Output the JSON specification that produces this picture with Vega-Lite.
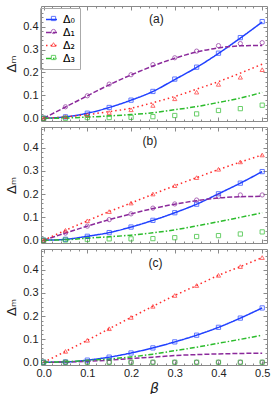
{
  "$schema": "https://vega.github.io/schema/vega-lite/v6.json",
  "padding": {"left": 5, "top": 5, "right": 5, "bottom": 5},
  "background": "white",
  "config": {
    "font": "Liberation Sans",
    "view": {"stroke": "#8a8a8a", "strokeWidth": 1},
    "axis": {
      "grid": false,
      "domain": false,
      "minExtent": 0,
      "offset": 0,
      "tickColor": "#8a8a8a",
      "labelFont": "Liberation Sans",
      "labelFontSize": 11,
      "labelColor": "#222222",
      "labelOverlap": false,
      "labelBound": false,
      "labelFlush": false,
      "titleFont": "DejaVu Sans",
      "titleFontWeight": "normal",
      "titleColor": "#222222"
    }
  },
  "resolve": {"legend": {"color": "independent", "strokeDash": "independent", "stroke": "independent", "shape": "independent"}},
  "datasets": {
    "curves": [
      {"p":"a","s":"Δ₀","b":0,"v":0},{"p":"a","s":"Δ₀","b":0.05,"v":0.006},{"p":"a","s":"Δ₀","b":0.1,"v":0.022},{"p":"a","s":"Δ₀","b":0.15,"v":0.047},{"p":"a","s":"Δ₀","b":0.2,"v":0.079},{"p":"a","s":"Δ₀","b":0.25,"v":0.117},{"p":"a","s":"Δ₀","b":0.3,"v":0.169},{"p":"a","s":"Δ₀","b":0.35,"v":0.222},{"p":"a","s":"Δ₀","b":0.4,"v":0.283},{"p":"a","s":"Δ₀","b":0.45,"v":0.35},{"p":"a","s":"Δ₀","b":0.5,"v":0.42},
      {"p":"a","s":"Δ₁","b":0,"v":0},{"p":"a","s":"Δ₁","b":0.05,"v":0.049},{"p":"a","s":"Δ₁","b":0.1,"v":0.098},{"p":"a","s":"Δ₁","b":0.15,"v":0.146},{"p":"a","s":"Δ₁","b":0.2,"v":0.189},{"p":"a","s":"Δ₁","b":0.25,"v":0.228},{"p":"a","s":"Δ₁","b":0.3,"v":0.262},{"p":"a","s":"Δ₁","b":0.35,"v":0.289},{"p":"a","s":"Δ₁","b":0.4,"v":0.307},{"p":"a","s":"Δ₁","b":0.45,"v":0.316},{"p":"a","s":"Δ₁","b":0.5,"v":0.318},
      {"p":"a","s":"Δ₂","b":0,"v":0},{"p":"a","s":"Δ₂","b":0.05,"v":0.006},{"p":"a","s":"Δ₂","b":0.1,"v":0.016},{"p":"a","s":"Δ₂","b":0.15,"v":0.029},{"p":"a","s":"Δ₂","b":0.2,"v":0.044},{"p":"a","s":"Δ₂","b":0.25,"v":0.068},{"p":"a","s":"Δ₂","b":0.3,"v":0.095},{"p":"a","s":"Δ₂","b":0.35,"v":0.127},{"p":"a","s":"Δ₂","b":0.4,"v":0.16},{"p":"a","s":"Δ₂","b":0.45,"v":0.197},{"p":"a","s":"Δ₂","b":0.5,"v":0.236},
      {"p":"a","s":"Δ₃","b":0,"v":0},{"p":"a","s":"Δ₃","b":0.05,"v":0.001},{"p":"a","s":"Δ₃","b":0.1,"v":0.005},{"p":"a","s":"Δ₃","b":0.15,"v":0.01},{"p":"a","s":"Δ₃","b":0.2,"v":0.016},{"p":"a","s":"Δ₃","b":0.25,"v":0.024},{"p":"a","s":"Δ₃","b":0.3,"v":0.037},{"p":"a","s":"Δ₃","b":0.35,"v":0.051},{"p":"a","s":"Δ₃","b":0.4,"v":0.069},{"p":"a","s":"Δ₃","b":0.45,"v":0.088},{"p":"a","s":"Δ₃","b":0.5,"v":0.113},
      {"p":"b","s":"Δ₀","b":0,"v":0},{"p":"b","s":"Δ₀","b":0.05,"v":0.004},{"p":"b","s":"Δ₀","b":0.1,"v":0.017},{"p":"b","s":"Δ₀","b":0.15,"v":0.033},{"p":"b","s":"Δ₀","b":0.2,"v":0.057},{"p":"b","s":"Δ₀","b":0.25,"v":0.086},{"p":"b","s":"Δ₀","b":0.3,"v":0.119},{"p":"b","s":"Δ₀","b":0.35,"v":0.156},{"p":"b","s":"Δ₀","b":0.4,"v":0.201},{"p":"b","s":"Δ₀","b":0.45,"v":0.247},{"p":"b","s":"Δ₀","b":0.5,"v":0.297},
      {"p":"b","s":"Δ₁","b":0,"v":0},{"p":"b","s":"Δ₁","b":0.05,"v":0.031},{"p":"b","s":"Δ₁","b":0.1,"v":0.061},{"p":"b","s":"Δ₁","b":0.15,"v":0.089},{"p":"b","s":"Δ₁","b":0.2,"v":0.114},{"p":"b","s":"Δ₁","b":0.25,"v":0.137},{"p":"b","s":"Δ₁","b":0.3,"v":0.156},{"p":"b","s":"Δ₁","b":0.35,"v":0.171},{"p":"b","s":"Δ₁","b":0.4,"v":0.183},{"p":"b","s":"Δ₁","b":0.45,"v":0.188},{"p":"b","s":"Δ₁","b":0.5,"v":0.19},
      {"p":"b","s":"Δ₂","b":0,"v":0},{"p":"b","s":"Δ₂","b":0.05,"v":0.043},{"p":"b","s":"Δ₂","b":0.1,"v":0.084},{"p":"b","s":"Δ₂","b":0.15,"v":0.124},{"p":"b","s":"Δ₂","b":0.2,"v":0.161},{"p":"b","s":"Δ₂","b":0.25,"v":0.199},{"p":"b","s":"Δ₂","b":0.3,"v":0.236},{"p":"b","s":"Δ₂","b":0.35,"v":0.271},{"p":"b","s":"Δ₂","b":0.4,"v":0.306},{"p":"b","s":"Δ₂","b":0.45,"v":0.338},{"p":"b","s":"Δ₂","b":0.5,"v":0.369},
      {"p":"b","s":"Δ₃","b":0,"v":0},{"p":"b","s":"Δ₃","b":0.05,"v":0.002},{"p":"b","s":"Δ₃","b":0.1,"v":0.009},{"p":"b","s":"Δ₃","b":0.15,"v":0.015},{"p":"b","s":"Δ₃","b":0.2,"v":0.022},{"p":"b","s":"Δ₃","b":0.25,"v":0.032},{"p":"b","s":"Δ₃","b":0.3,"v":0.045},{"p":"b","s":"Δ₃","b":0.35,"v":0.062},{"p":"b","s":"Δ₃","b":0.4,"v":0.08},{"p":"b","s":"Δ₃","b":0.45,"v":0.099},{"p":"b","s":"Δ₃","b":0.5,"v":0.119},
      {"p":"c","s":"Δ₀","b":0,"v":0},{"p":"c","s":"Δ₀","b":0.05,"v":0.001},{"p":"c","s":"Δ₀","b":0.1,"v":0.009},{"p":"c","s":"Δ₀","b":0.15,"v":0.022},{"p":"c","s":"Δ₀","b":0.2,"v":0.04},{"p":"c","s":"Δ₀","b":0.25,"v":0.062},{"p":"c","s":"Δ₀","b":0.3,"v":0.088},{"p":"c","s":"Δ₀","b":0.35,"v":0.117},{"p":"c","s":"Δ₀","b":0.4,"v":0.151},{"p":"c","s":"Δ₀","b":0.45,"v":0.191},{"p":"c","s":"Δ₀","b":0.5,"v":0.235},
      {"p":"c","s":"Δ₁","b":0,"v":0},{"p":"c","s":"Δ₁","b":0.05,"v":0.001},{"p":"c","s":"Δ₁","b":0.1,"v":0.004},{"p":"c","s":"Δ₁","b":0.15,"v":0.009},{"p":"c","s":"Δ₁","b":0.2,"v":0.016},{"p":"c","s":"Δ₁","b":0.25,"v":0.022},{"p":"c","s":"Δ₁","b":0.3,"v":0.029},{"p":"c","s":"Δ₁","b":0.35,"v":0.033},{"p":"c","s":"Δ₁","b":0.4,"v":0.036},{"p":"c","s":"Δ₁","b":0.45,"v":0.038},{"p":"c","s":"Δ₁","b":0.5,"v":0.039},
      {"p":"c","s":"Δ₂","b":0,"v":0},{"p":"c","s":"Δ₂","b":0.05,"v":0.047},{"p":"c","s":"Δ₂","b":0.1,"v":0.095},{"p":"c","s":"Δ₂","b":0.15,"v":0.145},{"p":"c","s":"Δ₂","b":0.2,"v":0.194},{"p":"c","s":"Δ₂","b":0.25,"v":0.242},{"p":"c","s":"Δ₂","b":0.3,"v":0.289},{"p":"c","s":"Δ₂","b":0.35,"v":0.332},{"p":"c","s":"Δ₂","b":0.4,"v":0.376},{"p":"c","s":"Δ₂","b":0.45,"v":0.414},{"p":"c","s":"Δ₂","b":0.5,"v":0.453},
      {"p":"c","s":"Δ₃","b":0,"v":0},{"p":"c","s":"Δ₃","b":0.05,"v":0.002},{"p":"c","s":"Δ₃","b":0.1,"v":0.008},{"p":"c","s":"Δ₃","b":0.15,"v":0.014},{"p":"c","s":"Δ₃","b":0.2,"v":0.023},{"p":"c","s":"Δ₃","b":0.25,"v":0.035},{"p":"c","s":"Δ₃","b":0.3,"v":0.05},{"p":"c","s":"Δ₃","b":0.35,"v":0.065},{"p":"c","s":"Δ₃","b":0.4,"v":0.082},{"p":"c","s":"Δ₃","b":0.45,"v":0.099},{"p":"c","s":"Δ₃","b":0.5,"v":0.117}
    ],
    "markers": [
      {"p":"a","m":"Δ₀","b":0,"v":0},{"p":"a","m":"Δ₀","b":0.05,"v":0.006},{"p":"a","m":"Δ₀","b":0.1,"v":0.022},{"p":"a","m":"Δ₀","b":0.15,"v":0.047},{"p":"a","m":"Δ₀","b":0.2,"v":0.079},{"p":"a","m":"Δ₀","b":0.25,"v":0.117},{"p":"a","m":"Δ₀","b":0.3,"v":0.171},{"p":"a","m":"Δ₀","b":0.35,"v":0.223},{"p":"a","m":"Δ₀","b":0.4,"v":0.284},{"p":"a","m":"Δ₀","b":0.45,"v":0.352},{"p":"a","m":"Δ₀","b":0.5,"v":0.422},
      {"p":"a","m":"Δ₁","b":0,"v":0},{"p":"a","m":"Δ₁","b":0.05,"v":0.05},{"p":"a","m":"Δ₁","b":0.1,"v":0.098},{"p":"a","m":"Δ₁","b":0.15,"v":0.149},{"p":"a","m":"Δ₁","b":0.2,"v":0.19},{"p":"a","m":"Δ₁","b":0.25,"v":0.234},{"p":"a","m":"Δ₁","b":0.3,"v":0.264},{"p":"a","m":"Δ₁","b":0.35,"v":0.293},{"p":"a","m":"Δ₁","b":0.4,"v":0.317},{"p":"a","m":"Δ₁","b":0.45,"v":0.326},{"p":"a","m":"Δ₁","b":0.5,"v":0.33},
      {"p":"a","m":"Δ₂","b":0,"v":0},{"p":"a","m":"Δ₂","b":0.05,"v":0.007},{"p":"a","m":"Δ₂","b":0.1,"v":0.015},{"p":"a","m":"Δ₂","b":0.15,"v":0.025},{"p":"a","m":"Δ₂","b":0.2,"v":0.037},{"p":"a","m":"Δ₂","b":0.25,"v":0.056},{"p":"a","m":"Δ₂","b":0.3,"v":0.085},{"p":"a","m":"Δ₂","b":0.35,"v":0.114},{"p":"a","m":"Δ₂","b":0.4,"v":0.148},{"p":"a","m":"Δ₂","b":0.45,"v":0.179},{"p":"a","m":"Δ₂","b":0.5,"v":0.212},
      {"p":"a","m":"Δ₃","b":0,"v":0},{"p":"a","m":"Δ₃","b":0.05,"v":0},{"p":"a","m":"Δ₃","b":0.1,"v":0.003},{"p":"a","m":"Δ₃","b":0.15,"v":0.003},{"p":"a","m":"Δ₃","b":0.2,"v":0.004},{"p":"a","m":"Δ₃","b":0.25,"v":0.007},{"p":"a","m":"Δ₃","b":0.3,"v":0.012},{"p":"a","m":"Δ₃","b":0.35,"v":0.019},{"p":"a","m":"Δ₃","b":0.4,"v":0.034},{"p":"a","m":"Δ₃","b":0.45,"v":0.042},{"p":"a","m":"Δ₃","b":0.5,"v":0.057},
      {"p":"b","m":"Δ₀","b":0,"v":0},{"p":"b","m":"Δ₀","b":0.05,"v":0.004},{"p":"b","m":"Δ₀","b":0.1,"v":0.017},{"p":"b","m":"Δ₀","b":0.15,"v":0.033},{"p":"b","m":"Δ₀","b":0.2,"v":0.057},{"p":"b","m":"Δ₀","b":0.25,"v":0.086},{"p":"b","m":"Δ₀","b":0.3,"v":0.119},{"p":"b","m":"Δ₀","b":0.35,"v":0.156},{"p":"b","m":"Δ₀","b":0.4,"v":0.201},{"p":"b","m":"Δ₀","b":0.45,"v":0.247},{"p":"b","m":"Δ₀","b":0.5,"v":0.297},
      {"p":"b","m":"Δ₁","b":0,"v":0},{"p":"b","m":"Δ₁","b":0.05,"v":0.031},{"p":"b","m":"Δ₁","b":0.1,"v":0.061},{"p":"b","m":"Δ₁","b":0.15,"v":0.089},{"p":"b","m":"Δ₁","b":0.2,"v":0.114},{"p":"b","m":"Δ₁","b":0.25,"v":0.139},{"p":"b","m":"Δ₁","b":0.3,"v":0.157},{"p":"b","m":"Δ₁","b":0.35,"v":0.174},{"p":"b","m":"Δ₁","b":0.4,"v":0.189},{"p":"b","m":"Δ₁","b":0.45,"v":0.196},{"p":"b","m":"Δ₁","b":0.5,"v":0.196},
      {"p":"b","m":"Δ₂","b":0,"v":0},{"p":"b","m":"Δ₂","b":0.05,"v":0.043},{"p":"b","m":"Δ₂","b":0.1,"v":0.084},{"p":"b","m":"Δ₂","b":0.15,"v":0.124},{"p":"b","m":"Δ₂","b":0.2,"v":0.161},{"p":"b","m":"Δ₂","b":0.25,"v":0.2},{"p":"b","m":"Δ₂","b":0.3,"v":0.236},{"p":"b","m":"Δ₂","b":0.35,"v":0.271},{"p":"b","m":"Δ₂","b":0.4,"v":0.307},{"p":"b","m":"Δ₂","b":0.45,"v":0.339},{"p":"b","m":"Δ₂","b":0.5,"v":0.369},
      {"p":"b","m":"Δ₃","b":0,"v":0},{"p":"b","m":"Δ₃","b":0.05,"v":0.001},{"p":"b","m":"Δ₃","b":0.1,"v":0.003},{"p":"b","m":"Δ₃","b":0.15,"v":0.006},{"p":"b","m":"Δ₃","b":0.2,"v":0.006},{"p":"b","m":"Δ₃","b":0.25,"v":0.007},{"p":"b","m":"Δ₃","b":0.3,"v":0.011},{"p":"b","m":"Δ₃","b":0.35,"v":0.016},{"p":"b","m":"Δ₃","b":0.4,"v":0.02},{"p":"b","m":"Δ₃","b":0.45,"v":0.027},{"p":"b","m":"Δ₃","b":0.5,"v":0.036},
      {"p":"c","m":"Δ₀","b":0,"v":0},{"p":"c","m":"Δ₀","b":0.05,"v":0.001},{"p":"c","m":"Δ₀","b":0.1,"v":0.009},{"p":"c","m":"Δ₀","b":0.15,"v":0.022},{"p":"c","m":"Δ₀","b":0.2,"v":0.04},{"p":"c","m":"Δ₀","b":0.25,"v":0.062},{"p":"c","m":"Δ₀","b":0.3,"v":0.088},{"p":"c","m":"Δ₀","b":0.35,"v":0.117},{"p":"c","m":"Δ₀","b":0.4,"v":0.151},{"p":"c","m":"Δ₀","b":0.45,"v":0.191},{"p":"c","m":"Δ₀","b":0.5,"v":0.235},
      {"p":"c","m":"Δ₁","b":0,"v":0},{"p":"c","m":"Δ₁","b":0.05,"v":0},{"p":"c","m":"Δ₁","b":0.1,"v":0},{"p":"c","m":"Δ₁","b":0.15,"v":0},{"p":"c","m":"Δ₁","b":0.2,"v":0},{"p":"c","m":"Δ₁","b":0.25,"v":0},{"p":"c","m":"Δ₁","b":0.3,"v":0},{"p":"c","m":"Δ₁","b":0.35,"v":0},{"p":"c","m":"Δ₁","b":0.4,"v":0},{"p":"c","m":"Δ₁","b":0.45,"v":0},{"p":"c","m":"Δ₁","b":0.5,"v":0},
      {"p":"c","m":"Δ₂","b":0.05,"v":0.047},{"p":"c","m":"Δ₂","b":0.1,"v":0.095},{"p":"c","m":"Δ₂","b":0.15,"v":0.145},{"p":"c","m":"Δ₂","b":0.2,"v":0.194},{"p":"c","m":"Δ₂","b":0.25,"v":0.242},{"p":"c","m":"Δ₂","b":0.3,"v":0.289},{"p":"c","m":"Δ₂","b":0.35,"v":0.332},{"p":"c","m":"Δ₂","b":0.4,"v":0.376},{"p":"c","m":"Δ₂","b":0.45,"v":0.414},{"p":"c","m":"Δ₂","b":0.5,"v":0.453},
      {"p":"c","m":"Δ₃","b":0,"v":0},{"p":"c","m":"Δ₃","b":0.05,"v":0},{"p":"c","m":"Δ₃","b":0.1,"v":0},{"p":"c","m":"Δ₃","b":0.15,"v":0},{"p":"c","m":"Δ₃","b":0.2,"v":0},{"p":"c","m":"Δ₃","b":0.25,"v":0},{"p":"c","m":"Δ₃","b":0.3,"v":0},{"p":"c","m":"Δ₃","b":0.35,"v":0},{"p":"c","m":"Δ₃","b":0.4,"v":0},{"p":"c","m":"Δ₃","b":0.45,"v":0},{"p":"c","m":"Δ₃","b":0.5,"v":0}
    ],
    "tags": [
      {"p":"a","b":0.258,"v":0.435,"t":"(a)"},
      {"p":"b","b":0.243,"v":0.43,"t":"(b)"},
      {"p":"c","b":0.256,"v":0.428,"t":"(c)"}
    ]
  },
  "spacing": 2,
  "vconcat": [
    {
      "width": 226, "height": 115,
      "resolve": {"axis": {"x": "independent", "y": "independent"}},
      "layer": [
        {
          "data": {"name": "curves"},
          "transform": [{"filter": "datum.p == 'a'"}],
          "mark": {"type": "line", "strokeWidth": 1.5, "interpolate": "monotone", "clip": true},
          "encoding": {
            "x": {"field": "b", "type": "quantitative", "scale": {"domain": [-0.006, 0.511], "nice": false, "zero": false},
              "axis": {"orient": "bottom", "values": [0,0.1,0.2,0.3,0.4,0.5], "labels": false, "title": null, "maxExtent": 0, "tickSize": -4}},
            "y": {"field": "v", "type": "quantitative", "scale": {"domain": [-0.012, 0.49], "nice": false, "zero": false},
              "axis": {"orient": "left", "values": [0,0.1,0.2,0.3,0.4], "format": ".1f", "title": "Δₘ", "titleFontSize": 13, "titlePadding": 4, "labelPadding": 7, "tickSize": -4}},
            "color": {"field": "s", "type": "nominal", "scale": {"domain": ["Δ₀","Δ₁","Δ₂","Δ₃"], "range": ["#2040ff","#8b2a9b","#ff2a2a","#2cbc2c"]},
              "legend": {"orient": "none", "legendX": -1, "legendY": 2, "title": null, "symbolType": "stroke", "symbolSize": 121, "symbolStrokeWidth": 1.5, "labelFontSize": 11, "labelFont": "DejaVu Sans", "labelOffset": 5, "rowPadding": 1, "padding": 5, "strokeColor": "#aaaaaa"}},
            "strokeDash": {"field": "s", "type": "nominal", "scale": {"domain": ["Δ₀","Δ₁","Δ₂","Δ₃"], "range": [[1,0],[5,2],[1.5,3],[5,2,1.5,2]]}}
          }
        },
        {
          "data": {"name": "markers"},
          "transform": [{"filter": "datum.p == 'a'"}],
          "mark": {"type": "point", "filled": false, "strokeWidth": 1, "size": 18, "clip": true},
          "encoding": {
            "x": {"field": "b", "type": "quantitative",
              "axis": {"orient": "top", "values": [0,0.1,0.2,0.3,0.4,0.5], "labels": false, "title": null, "maxExtent": 0, "tickSize": -4}},
            "y": {"field": "v", "type": "quantitative",
              "axis": {"orient": "right", "values": [0,0.1,0.2,0.3,0.4], "labels": false, "title": null, "maxExtent": 0, "tickSize": -4}},
            "stroke": {"field": "m", "type": "nominal", "scale": {"domain": ["Δ₃","Δ₂","Δ₁","Δ₀"], "range": ["#2cbc2c","#ff2a2a","#8b2a9b","#2040ff"]},
              "legend": {"orient": "none", "legendX": 2, "legendY": 2, "title": null, "values": ["Δ₀","Δ₁","Δ₂","Δ₃"], "symbolSize": 18, "symbolStrokeWidth": 1, "symbolFillColor": "white", "labelFontSize": 11, "labelFont": "DejaVu Sans", "labelColor": "transparent", "rowPadding": 1, "padding": 5}},
            "shape": {"field": "m", "type": "nominal", "scale": {"domain": ["Δ₃","Δ₂","Δ₁","Δ₀"], "range": ["square","triangle-up","circle","square"]},
              "legend": {"orient": "none", "legendX": 2, "legendY": 2, "title": null, "values": ["Δ₀","Δ₁","Δ₂","Δ₃"], "symbolSize": 18, "symbolStrokeWidth": 1, "symbolFillColor": "white", "labelFontSize": 11, "labelFont": "DejaVu Sans", "labelColor": "transparent", "rowPadding": 1, "padding": 5}}
          }
        },
        {
          "data": {"name": "tags"},
          "transform": [{"filter": "datum.p == 'a'"}],
          "mark": {"type": "text", "fontSize": 12, "font": "Liberation Sans", "color": "#222222"},
          "encoding": {
            "x": {"field": "b", "type": "quantitative", "axis": {"orient": "bottom", "values": [0.02,0.04,0.06,0.08,0.12,0.14,0.16,0.18,0.22,0.24,0.26,0.28,0.32,0.34,0.36,0.38,0.42,0.44,0.46,0.48], "labels": false, "title": null, "maxExtent": 0, "tickSize": -2}},
            "y": {"field": "v", "type": "quantitative", "axis": {"orient": "left", "values": [0.02,0.04,0.06,0.08,0.12,0.14,0.16,0.18,0.22,0.24,0.26,0.28,0.32,0.34,0.36,0.38,0.42,0.44,0.46,0.48], "labels": false, "title": null, "maxExtent": 0, "tickSize": -2}},
            "text": {"field": "t"}
          }
        },
        {
          "data": {"name": "tags"},
          "transform": [{"filter": "datum.p == 'a'"}],
          "mark": {"type": "text", "opacity": 0},
          "encoding": {
            "x": {"field": "b", "type": "quantitative", "axis": {"orient": "top", "values": [0.02,0.04,0.06,0.08,0.12,0.14,0.16,0.18,0.22,0.24,0.26,0.28,0.32,0.34,0.36,0.38,0.42,0.44,0.46,0.48], "labels": false, "title": null, "maxExtent": 0, "tickSize": -2}},
            "y": {"field": "v", "type": "quantitative", "axis": {"orient": "right", "values": [0.02,0.04,0.06,0.08,0.12,0.14,0.16,0.18,0.22,0.24,0.26,0.28,0.32,0.34,0.36,0.38,0.42,0.44,0.46,0.48], "labels": false, "title": null, "maxExtent": 0, "tickSize": -2}},
            "text": {"field": "t"}
          }
        }
      ]
    },
    {
      "width": 226, "height": 116,
      "resolve": {"axis": {"x": "independent", "y": "independent"}},
      "layer": [
        {
          "data": {"name": "curves"},
          "transform": [{"filter": "datum.p == 'b'"}],
          "mark": {"type": "line", "strokeWidth": 1.5, "interpolate": "monotone", "clip": true},
          "encoding": {
            "x": {"field": "b", "type": "quantitative", "scale": {"domain": [-0.006, 0.511], "nice": false, "zero": false},
              "axis": {"orient": "bottom", "values": [0,0.1,0.2,0.3,0.4,0.5], "labels": false, "title": null, "maxExtent": 0, "tickSize": -4}},
            "y": {"field": "v", "type": "quantitative", "scale": {"domain": [-0.012, 0.49], "nice": false, "zero": false},
              "axis": {"orient": "left", "values": [0,0.1,0.2,0.3,0.4], "format": ".1f", "title": "Δₘ", "titleFontSize": 13, "titlePadding": 4, "labelPadding": 7, "tickSize": -4}},
            "color": {"field": "s", "type": "nominal", "legend": null},
            "strokeDash": {"field": "s", "type": "nominal", "legend": null}
          }
        },
        {
          "data": {"name": "markers"},
          "transform": [{"filter": "datum.p == 'b'"}],
          "mark": {"type": "point", "filled": false, "strokeWidth": 1, "size": 18, "clip": true},
          "encoding": {
            "x": {"field": "b", "type": "quantitative",
              "axis": {"orient": "top", "values": [0,0.1,0.2,0.3,0.4,0.5], "labels": false, "title": null, "maxExtent": 0, "tickSize": -4}},
            "y": {"field": "v", "type": "quantitative",
              "axis": {"orient": "right", "values": [0,0.1,0.2,0.3,0.4], "labels": false, "title": null, "maxExtent": 0, "tickSize": -4}},
            "stroke": {"field": "m", "type": "nominal", "legend": null},
            "shape": {"field": "m", "type": "nominal", "legend": null}
          }
        },
        {
          "data": {"name": "tags"},
          "transform": [{"filter": "datum.p == 'b'"}],
          "mark": {"type": "text", "fontSize": 12, "font": "Liberation Sans", "color": "#222222"},
          "encoding": {
            "x": {"field": "b", "type": "quantitative", "axis": {"orient": "bottom", "values": [0.02,0.04,0.06,0.08,0.12,0.14,0.16,0.18,0.22,0.24,0.26,0.28,0.32,0.34,0.36,0.38,0.42,0.44,0.46,0.48], "labels": false, "title": null, "maxExtent": 0, "tickSize": -2}},
            "y": {"field": "v", "type": "quantitative", "axis": {"orient": "left", "values": [0.02,0.04,0.06,0.08,0.12,0.14,0.16,0.18,0.22,0.24,0.26,0.28,0.32,0.34,0.36,0.38,0.42,0.44,0.46,0.48], "labels": false, "title": null, "maxExtent": 0, "tickSize": -2}},
            "text": {"field": "t"}
          }
        },
        {
          "data": {"name": "tags"},
          "transform": [{"filter": "datum.p == 'b'"}],
          "mark": {"type": "text", "opacity": 0},
          "encoding": {
            "x": {"field": "b", "type": "quantitative", "axis": {"orient": "top", "values": [0.02,0.04,0.06,0.08,0.12,0.14,0.16,0.18,0.22,0.24,0.26,0.28,0.32,0.34,0.36,0.38,0.42,0.44,0.46,0.48], "labels": false, "title": null, "maxExtent": 0, "tickSize": -2}},
            "y": {"field": "v", "type": "quantitative", "axis": {"orient": "right", "values": [0.02,0.04,0.06,0.08,0.12,0.14,0.16,0.18,0.22,0.24,0.26,0.28,0.32,0.34,0.36,0.38,0.42,0.44,0.46,0.48], "labels": false, "title": null, "maxExtent": 0, "tickSize": -2}},
            "text": {"field": "t"}
          }
        }
      ]
    },
    {
      "width": 226, "height": 116,
      "resolve": {"axis": {"x": "independent", "y": "independent"}},
      "layer": [
        {
          "data": {"name": "curves"},
          "transform": [{"filter": "datum.p == 'c'"}],
          "mark": {"type": "line", "strokeWidth": 1.5, "interpolate": "monotone", "clip": true},
          "encoding": {
            "x": {"field": "b", "type": "quantitative", "scale": {"domain": [-0.006, 0.511], "nice": false, "zero": false},
              "axis": {"orient": "bottom", "values": [0,0.1,0.2,0.3,0.4,0.5], "format": ".1f", "title": "β", "titleFontSize": 14, "titleFontStyle": "italic", "titlePadding": 3, "labelPadding": 6, "tickSize": -4}},
            "y": {"field": "v", "type": "quantitative", "scale": {"domain": [-0.012, 0.49], "nice": false, "zero": false},
              "axis": {"orient": "left", "values": [0,0.1,0.2,0.3,0.4], "format": ".1f", "title": "Δₘ", "titleFontSize": 13, "titlePadding": 4, "labelPadding": 7, "tickSize": -4}},
            "color": {"field": "s", "type": "nominal", "legend": null},
            "strokeDash": {"field": "s", "type": "nominal", "legend": null}
          }
        },
        {
          "data": {"name": "markers"},
          "transform": [{"filter": "datum.p == 'c'"}],
          "mark": {"type": "point", "filled": false, "strokeWidth": 1, "size": 18, "clip": true},
          "encoding": {
            "x": {"field": "b", "type": "quantitative",
              "axis": {"orient": "top", "values": [0,0.1,0.2,0.3,0.4,0.5], "labels": false, "title": null, "maxExtent": 0, "tickSize": -4}},
            "y": {"field": "v", "type": "quantitative",
              "axis": {"orient": "right", "values": [0,0.1,0.2,0.3,0.4], "labels": false, "title": null, "maxExtent": 0, "tickSize": -4}},
            "stroke": {"field": "m", "type": "nominal", "legend": null},
            "shape": {"field": "m", "type": "nominal", "legend": null}
          }
        },
        {
          "data": {"name": "tags"},
          "transform": [{"filter": "datum.p == 'c'"}],
          "mark": {"type": "text", "fontSize": 12, "font": "Liberation Sans", "color": "#222222"},
          "encoding": {
            "x": {"field": "b", "type": "quantitative", "axis": {"orient": "bottom", "values": [0.02,0.04,0.06,0.08,0.12,0.14,0.16,0.18,0.22,0.24,0.26,0.28,0.32,0.34,0.36,0.38,0.42,0.44,0.46,0.48], "labels": false, "title": null, "maxExtent": 0, "tickSize": -2}},
            "y": {"field": "v", "type": "quantitative", "axis": {"orient": "left", "values": [0.02,0.04,0.06,0.08,0.12,0.14,0.16,0.18,0.22,0.24,0.26,0.28,0.32,0.34,0.36,0.38,0.42,0.44,0.46,0.48], "labels": false, "title": null, "maxExtent": 0, "tickSize": -2}},
            "text": {"field": "t"}
          }
        },
        {
          "data": {"name": "tags"},
          "transform": [{"filter": "datum.p == 'c'"}],
          "mark": {"type": "text", "opacity": 0},
          "encoding": {
            "x": {"field": "b", "type": "quantitative", "axis": {"orient": "top", "values": [0.02,0.04,0.06,0.08,0.12,0.14,0.16,0.18,0.22,0.24,0.26,0.28,0.32,0.34,0.36,0.38,0.42,0.44,0.46,0.48], "labels": false, "title": null, "maxExtent": 0, "tickSize": -2}},
            "y": {"field": "v", "type": "quantitative", "axis": {"orient": "right", "values": [0.02,0.04,0.06,0.08,0.12,0.14,0.16,0.18,0.22,0.24,0.26,0.28,0.32,0.34,0.36,0.38,0.42,0.44,0.46,0.48], "labels": false, "title": null, "maxExtent": 0, "tickSize": -2}},
            "text": {"field": "t"}
          }
        }
      ]
    }
  ]
}
